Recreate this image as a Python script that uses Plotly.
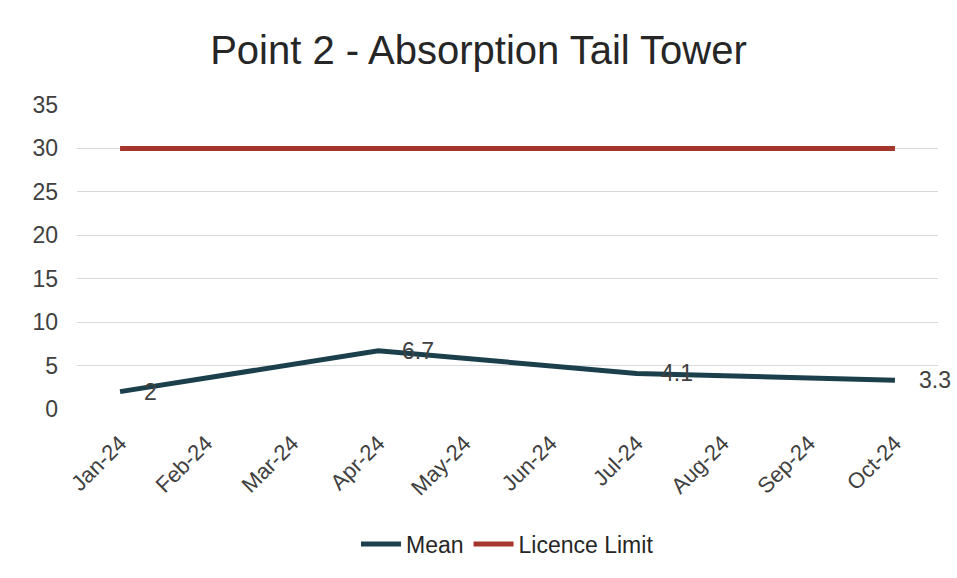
import plotly.graph_objects as go

months = ["Jan-24", "Feb-24", "Mar-24", "Apr-24", "May-24", "Jun-24",
          "Jul-24", "Aug-24", "Sep-24", "Oct-24"]
mean_vals = [2, None, None, 6.7, None, None, 4.1, None, None, 3.3]
licence_limit = [30, 30, 30, 30, 30, 30, 30, 30, 30, 30]
mean_labels = ["2", "", "", "6.7", "", "", "4.1", "", "", "3.3"]

fig = go.Figure()
fig.add_trace(go.Scatter(
    x=months, y=mean_vals, name="Mean", mode="lines",
    connectgaps=True, line=dict(color="#1b404b", width=5),
))
fig.add_trace(go.Scatter(
    x=months, y=licence_limit, name="Licence Limit", mode="lines",
    line=dict(color="#a5362b", width=5),
))

annotations = []
for m, v, t in zip(months, mean_vals, mean_labels):
    if v is not None and t:
        annotations.append(dict(
            x=m, y=v, xref="x", yref="y", text=t, showarrow=False,
            xanchor="left", yanchor="middle", xshift=22,
            font=dict(size=23, color="#404040"),
        ))

fig.update_layout(
    width=957, height=578,
    paper_bgcolor="white", plot_bgcolor="white",
    font=dict(family="Liberation Sans, Arial, sans-serif", size=22, color="#404040"),
    title=dict(text="Point 2 - Absorption Tail Tower", x=0.5, xanchor="center",
               y=0.913, yanchor="middle",
               font=dict(size=40, color="#262626")),
    margin=dict(l=77, r=19, t=105, b=167),
    showlegend=True,
    legend=dict(orientation="h", x=0.5, xanchor="center", y=-0.444, yanchor="middle",
                font=dict(size=23, color="#262626"), itemwidth=40),
    annotations=annotations,
    xaxis=dict(type="category", range=[-0.5, 9.5], tickangle=-45,
               showgrid=False, showline=False, ticks="",
               ticklabelstandoff=16,
               tickfont=dict(size=22, color="#404040")),
    yaxis=dict(range=[0, 35], dtick=5, showgrid=True, gridcolor="#d9d9d9",
               gridwidth=1, zeroline=False, showline=False,
               ticklabelstandoff=18,
               tickfont=dict(size=23, color="#404040")),
)
fig.write_html("out.html", config={"displayModeBar": False},
               post_script="document.body.style.margin='0';")
